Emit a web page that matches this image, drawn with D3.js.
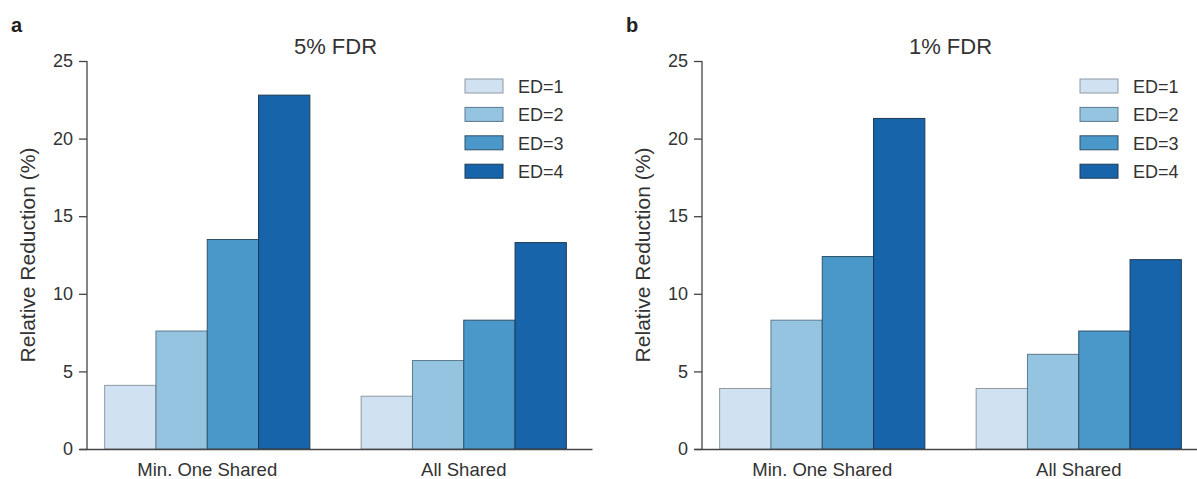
<!DOCTYPE html>
<html>
<head>
<meta charset="utf-8">
<script src="https://cdn.jsdelivr.net/npm/d3@7"></script>
<style>
  body { margin: 0; background: #fff; }
  svg { font-family: "Liberation Sans", Arial, sans-serif; }
</style>
</head>
<body>
<svg id="d3svg" width="1197" height="479"></svg>
<script>
const width = 1197;
const height = 479;

// data
const groups = ["Min. One Shared", "All Shared"];
const series = ["ED=1", "ED=2", "ED=3", "ED=4"];
const colors = ["#d0e1f2", "#94c4df", "#4a98c9", "#1764ab"];
const edges = ["#8e99a4", "#5c7a8e", "#2f5168", "#1f3a55"];
const yTicks = [0, 5, 10, 15, 20, 25];

const fdr5 = [
  [4.1, 7.6, 13.5, 22.8],   // Min. One Shared
  [3.4, 5.7, 8.3, 13.3]     // All Shared
];
const fdr1 = [
  [3.9, 8.3, 12.4, 21.3],
  [3.9, 6.1, 7.6, 12.2]
];

const panels = [
  {label: "a", title: "5% FDR", values: fdr5, dx: 0},
  {label: "b", title: "1% FDR", values: fdr1, dx: 615}
];

const svg = d3.select("#d3svg");

const y = d3.scaleLinear().domain([0, 25]).range([449, 61]);

function draw_panel(p) {
  const g = svg.append("g").attr("transform", "translate(" + p.dx + ",0)");

  const x0 = d3.scaleBand().domain(groups).range([79, 592])
    .paddingInner(0.2).paddingOuter(0.1);
  const x1 = d3.scaleBand().domain(series).range([0, x0.bandwidth()]);

  // bars
  groups.forEach((grp, gi) => {
    g.append("g")
      .selectAll("rect")
      .data(p.values[gi])
      .enter().append("rect")
      .attr("x", (d, i) => x0(grp) + x1(series[i]))
      .attr("y", d => y(d))
      .attr("width", x1.bandwidth())
      .attr("height", d => y(0) - y(d))
      .attr("fill", (d, i) => colors[i])
      .attr("stroke", (d, i) => edges[i])
      .attr("stroke-width", 1);
  });

  // y axis
  const yAxis = g.append("g")
    .attr("transform", "translate(87,0)")
    .call(d3.axisLeft(y).tickValues(yTicks).tickSize(8).tickPadding(6));
  yAxis.select(".domain").attr("d", "M0," + y(25) + "V" + y(0))
    .attr("stroke", "#444").attr("stroke-width", 1.3);
  yAxis.selectAll(".tick line").attr("stroke", "#444").attr("stroke-width", 1.3);
  yAxis.selectAll(".tick text")
    .attr("font-size", 18).attr("fill", "#333")
    .attr("font-family", "Liberation Sans, Arial, sans-serif");

  // x axis
  const xAxis = g.append("g")
    .attr("transform", "translate(0," + y(0) + ")")
    .call(d3.axisBottom(x0).tickSize(0).tickPadding(14).tickSizeOuter(0));
  xAxis.select(".domain").attr("stroke", "#444").attr("stroke-width", 1.3);
  xAxis.selectAll(".tick text")
    .attr("font-size", 18.5).attr("fill", "#333")
    .attr("font-family", "Liberation Sans, Arial, sans-serif");

  // y label
  g.append("text")
    .attr("transform", "translate(35," + (y(0) + y(25)) / 2 + ") rotate(-90)")
    .attr("text-anchor", "middle")
    .attr("font-size", 21)
    .attr("fill", "#333")
    .text("Relative Reduction (%)");

  // title
  g.append("text")
    .attr("x", (79 + 592) / 2)
    .attr("y", 54)
    .attr("text-anchor", "middle")
    .attr("font-size", 22)
    .attr("fill", "#333")
    .text(p.title);

  // panel letter
  g.append("text")
    .attr("x", 11)
    .attr("y", 32)
    .attr("font-size", 20)
    .attr("font-weight", "bold")
    .attr("fill", "#222")
    .text(p.label);

  // legend
  const leg = g.append("g")
    .selectAll("g")
    .data(series)
    .enter().append("g")
    .attr("transform", (d, i) => "translate(465," + (79 + i * 28.4) + ")");
  leg.append("rect")
    .attr("width", 38)
    .attr("height", 14)
    .attr("fill", (d, i) => colors[i])
    .attr("stroke", (d, i) => edges[i])
    .attr("stroke-width", 1);
  leg.append("text")
    .attr("x", 53)
    .attr("y", 14)
    .attr("font-size", 18)
    .attr("fill", "#333")
    .text(d => d);
}

panels.forEach(draw_panel);
</script>
</body>
</html>
